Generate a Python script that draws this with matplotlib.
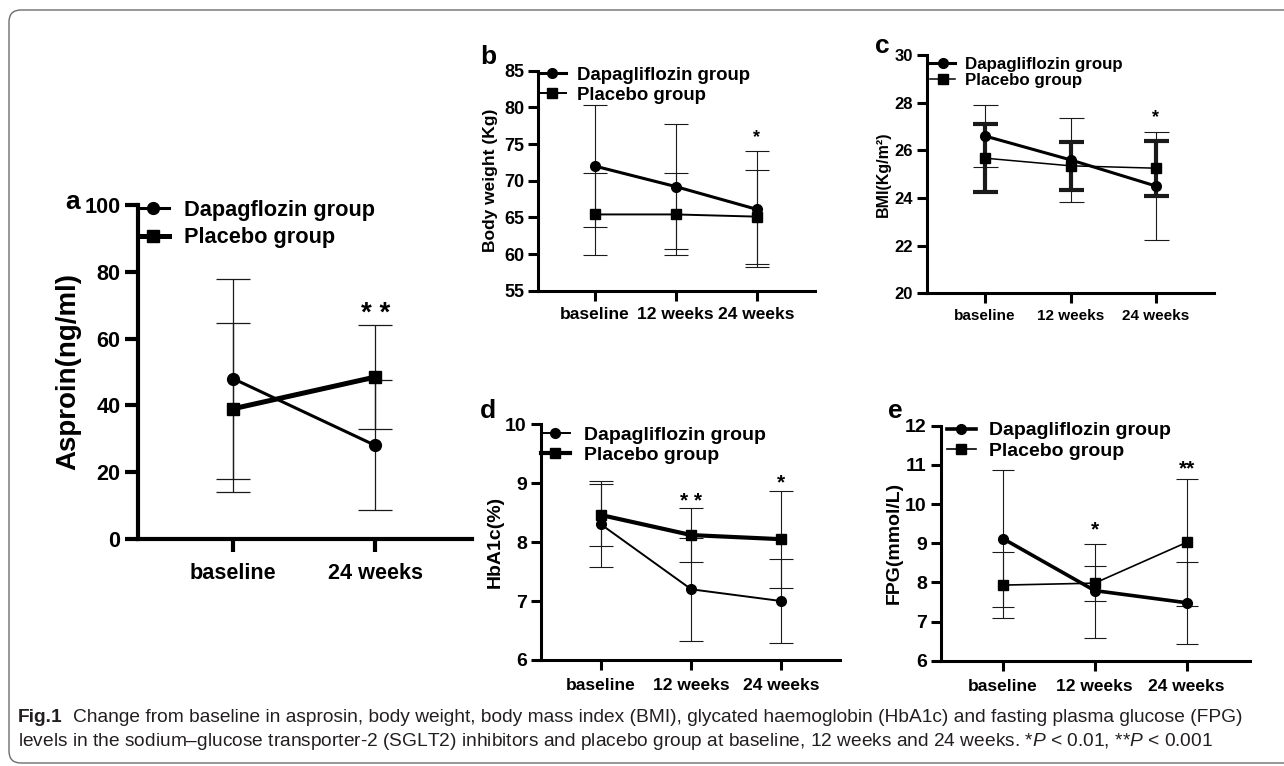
import numpy as np
import matplotlib
matplotlib.use('Agg')
import matplotlib.pyplot as plt
from matplotlib.patches import FancyBboxPatch
from matplotlib.transforms import IdentityTransform

ARIAL = 'Liberation Sans'
plt.rcParams['font.family'] = ARIAL
plt.rcParams['mathtext.fontset'] = 'custom'
plt.rcParams['mathtext.rm'] = ARIAL
plt.rcParams['mathtext.it'] = ARIAL + ':italic'

# ---- data ----
times2 = ['baseline', '24 weeks']
times3 = ['baseline', '12 weeks', '24 weeks']

# a: asprosin (ng/ml), mean with lower / upper end of the error bar
a_dapa = [48.0, 28.0]
a_dapa_lo = [14.0, 8.6]
a_dapa_hi = [77.8, 47.5]
a_plac = [39.0, 48.5]
a_plac_lo = [18.0, 33.0]
a_plac_hi = [64.6, 64.0]
a_stars = ['', '* *']

# b: body weight (kg), mean and SD
b_dapa = [72.0, 69.2, 66.1]
b_dapa_sd = [8.3, 8.5, 7.9]
b_plac = [65.4, 65.4, 65.1]
b_plac_sd = [5.6, 5.6, 6.4]
b_stars = ['', '', '*']

# c: BMI
c_dapa = [26.6, 25.6, 24.5]
c_dapa_sd = [1.3, 1.75, 2.28]
c_plac = [25.67, 25.35, 25.25]
c_plac_sd = [1.43, 1.0, 1.15]
c_stars = ['', '', '*']

# d: HbA1c (%)
d_dapa = [8.3, 7.2, 7.0]
d_dapa_sd = [0.73, 0.87, 0.71]
d_plac = [8.46, 8.12, 8.05]
d_plac_sd = [0.52, 0.46, 0.82]
d_stars = ['', '* *', '*']

# e: FPG (mmol/L)
e_dapa = [9.12, 7.79, 7.48]
e_dapa_sd = [1.75, 1.2, 1.05]
e_plac = [7.93, 7.98, 9.02]
e_plac_sd = [0.85, 0.45, 1.63]
e_stars = ['', '*', '**']

W, H = 1284, 766
fig = plt.figure(figsize=(W / 100, H / 100), dpi=100)


def add_axes(x0, x1, y0, y1):
    # pixel box -> figure fraction
    return fig.add_axes([x0 / W, 1 - y1 / H, (x1 - x0) / W, (y1 - y0) / H])


def draw(ax, cats, dapa, dapa_err, plac, plac_err, stars, ylim, yticks, ylabel,
         xlim, dname, tick_fs, xtick_fs, leg_fs, ylab_fs, spine_w,
         lw_d, lw_p, ms, elw_d, elw_p, cap, leg_anchor, leg_space, star_fs,
         star_off, handle_len=1.5, text_pad=0.6, xpad=5):
    x = np.arange(len(cats))
    for m, e, lw in [(dapa, dapa_err, elw_d), (plac, plac_err, elw_p)]:
        ax.errorbar(x, m, yerr=e, fmt='none', ecolor='#1a1a1a', elinewidth=lw,
                    capsize=cap, capthick=lw, zorder=2, clip_on=False)
    ax.plot(x, dapa, color='black', lw=lw_d, marker='o', ms=ms, zorder=3,
            clip_on=False, label=dname)
    ax.plot(x, plac, color='black', lw=lw_p, marker='s', ms=ms, zorder=3,
            clip_on=False, label='Placebo group')
    dapa_hi = np.array(dapa) + np.asarray(dapa_err).reshape(-1, len(cats))[-1]
    plac_hi = np.array(plac) + np.asarray(plac_err).reshape(-1, len(cats))[-1]
    for i, s in enumerate(stars):
        if s:
            ytop = max(dapa_hi[i], plac_hi[i])
            ax.annotate(s, (x[i], ytop), xytext=(0, star_off[i]),
                        textcoords='offset points', ha='center', va='bottom',
                        fontsize=star_fs, fontweight='bold')
    ax.set_xlim(*xlim)
    ax.set_ylim(*ylim)
    ax.set_yticks(yticks)
    ax.set_yticklabels([str(t) for t in yticks], fontsize=tick_fs, fontweight='bold')
    ax.set_xticks(x)
    ax.set_xticklabels(cats, fontsize=xtick_fs, fontweight='bold')
    ax.set_ylabel(ylabel, fontsize=ylab_fs, fontweight='bold')
    for s in ['top', 'right']:
        ax.spines[s].set_visible(False)
    for s in ['left', 'bottom']:
        ax.spines[s].set_linewidth(spine_w)
    ax.tick_params(width=spine_w, length=spine_w * 3.2, pad=3)
    ax.tick_params(axis='x', pad=xpad)
    ax.legend(loc='upper left', bbox_to_anchor=leg_anchor, frameon=False,
              borderaxespad=0, borderpad=0, handlelength=handle_len,
              handletextpad=text_pad, labelspacing=leg_space,
              prop={'weight': 'bold', 'size': leg_fs})
    ax.patch.set_alpha(0)
    return ax


# a
ax = add_axes(138, 472, 205, 539)
draw(ax, times2, a_dapa,
     [np.subtract(a_dapa, a_dapa_lo), np.subtract(a_dapa_hi, a_dapa)],
     a_plac, [np.subtract(a_plac, a_plac_lo), np.subtract(a_plac_hi, a_plac)],
     a_stars, (0, 100), [0, 20, 40, 60, 80, 100], 'Asproin(ng/ml)',
     (-0.67, 1.68), 'Dapagflozin group', 15.6, 15.6, 15.7, 20, 3.0,
     2.2, 3.6, 8.5, 0.9, 0.9, 12, (0.0, 1.016), 0.3, 20, [0, -1],
     handle_len=1.4, text_pad=0.7, xpad=8)
ax.yaxis.labelpad = 2

# b
ax = add_axes(538, 815, 70.7, 290.7)
draw(ax, times3, b_dapa, b_dapa_sd, b_plac, b_plac_sd, b_stars, (55, 85),
     [55, 60, 65, 70, 75, 80, 85], 'Body weight (Kg)', (-0.70, 2.72),
     'Dapagliflozin group', 13, 12.5, 13.4, 12.5, 2.2,
     2.2, 1.4, 7, 0.8, 0.8, 8.5, (0.0, 1.017), 0.15, 13, [4, 4, 4])

# c
ax = add_axes(927, 1214, 55, 293.3)
draw(ax, times3, c_dapa, c_dapa_sd, c_plac, c_plac_sd, c_stars, (20, 30),
     [20, 22, 24, 26, 28, 30], 'BMI(Kg/m²)', (-0.68, 2.68),
     'Dapagliflozin group', 12, 11, 12.2, 11.5, 2.2,
     2.2, 1.1, 7, 0.8, 3.0, 9, (0.01, 0.993), 0.1, 13, [4, 4, 4], xpad=4)
ax.yaxis.labelpad = 3

# d
ax = add_axes(540.7, 840, 424.3, 660)
draw(ax, times3, d_dapa, d_dapa_sd, d_plac, d_plac_sd, d_stars, (6, 10),
     [6, 7, 8, 9, 10], 'HbA1c(%)', (-0.67, 2.65),
     'Dapagliflozin group', 14, 12.5, 14, 14, 2.2,
     1.4, 3.0, 7, 0.8, 0.8, 8.5, (0.0, 0.993), 0.15, 15, [0, -2, -1],
     text_pad=0.75, xpad=6)
ax.yaxis.labelpad = 1

# e
ax = add_axes(940.7, 1250, 425.7, 660.7)
draw(ax, times3, e_dapa, e_dapa_sd, e_plac, e_plac_sd, e_stars, (6, 12),
     [6, 7, 8, 9, 10, 11, 12], 'FPG(mmol/L)', (-0.675, 2.69),
     'Dapagliflozin group', 14, 12.5, 14, 14, 2.2,
     2.6, 1.2, 7, 0.8, 0.8, 8, (0.02, 1.017), 0.15, 15, [0, 3, 0],
     text_pad=0.65, xpad=6)
ax.yaxis.labelpad = 2

# panel letters
for lab, px, py in [('a', 73, 202), ('b', 488, 57), ('c', 882, 46),
                    ('d', 488, 411), ('e', 895, 411)]:
    fig.text(px / W, 1 - py / H, lab, fontsize=19, fontweight='bold',
             ha='center', va='center')

# caption
cap1 = ('Change from baseline in asprosin, body weight, body mass index (BMI), '
        'glycated haemoglobin (HbA1c) and fasting plasma glucose (FPG)')
cap2 = ('levels in the sodium\u2013glucose transporter-2 (SGLT2) inhibitors and placebo '
        r'group at baseline, 12 weeks and 24 weeks. *$P$ < 0.01, **$P$ < 0.001')
renderer = fig.canvas.get_renderer()
fig_lab = fig.text(18 / W, 1 - 718 / H, 'Fig.1', fontsize=13.8, fontweight='bold',
                   color='#231f20', ha='left', va='center')
x_after = fig_lab.get_window_extent(renderer).x1 + 10
fig.text(x_after / W, 1 - 718 / H, cap1, fontsize=13.8, color='#231f20',
         ha='left', va='center')
fig.text(18 / W, 1 - 742 / H, cap2, fontsize=13.8, color='#231f20',
         ha='left', va='center')

# rounded frame
fig.patches.append(FancyBboxPatch((9, 3), 1320, 753, boxstyle='round,pad=0,rounding_size=12',
                                  transform=IdentityTransform(), fill=False,
                                  edgecolor='#6d6d6d', lw=1.0))

fig.savefig('out.png', dpi=100)
